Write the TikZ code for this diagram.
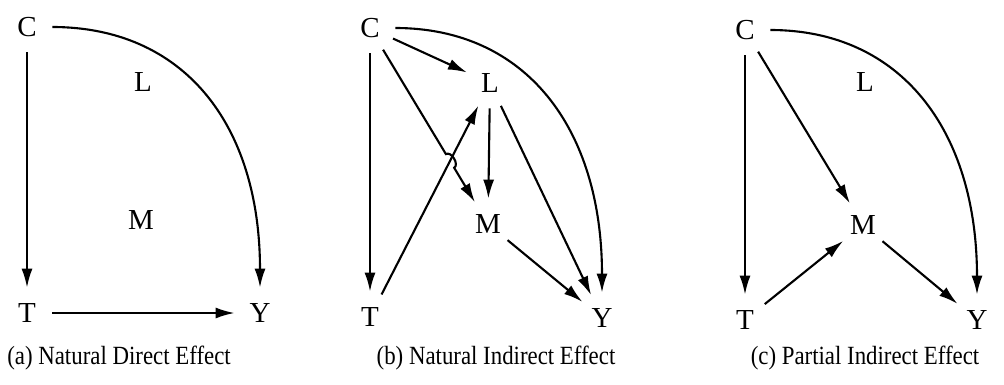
\documentclass[tikz,border=0pt]{standalone}
\usepackage{fontspec}
\setmainfont{Liberation Serif}
\usetikzlibrary{arrows.meta,calc}

\begin{document}
\begin{tikzpicture}[>={Latex[length=3.8mm,width=2.2mm]},x=0.02cm,y=-0.02cm,
  var/.style={circle,inner sep=0pt,minimum size=1cm,font=\fontsize{16.5}{19}\selectfont},
  captext/.style={font=\fontsize{13}{15}\selectfont,yscale=1.15,transform shape},
  arr/.style={->,line width=1.2pt}]
  \useasboundingbox (0,0) rectangle (1004,385);
  \begin{scope}
    \node[var] (aC) at (27,27) {C};
    \node[var] (aL) at (143,82) {L};
    \node[var] (aM) at (141,220) {M};
    \node[var] (aT) at (27,313) {T};
    \node[var] (aY) at (260,313) {Y};
    \draw[arr] (aC) -- (aT);
    \draw[arr] (aT) -- (aY);
    \draw[arr] (aC.east) .. controls +(130,0) and +(0,-165) .. (aY.north);
    \node[captext] (capa) at (119,358) {(a) Natural Direct Effect};
  \end{scope}
  \begin{scope}[shift={(340,0)}]
    \node[var] (bC) at (30,28) {C};
    \node[var] (bL) at (150,83) {L};
    \node[var] (bM) at (148,224) {M};
    \node[var] (bT) at (30,317) {T};
    \node[var] (bY) at (262,318) {Y};
    \coordinate (bX) at (intersection of bC--bM and bT--bL);
    \draw[arr] (bC) -- (bT);
    \draw[arr] (bC) -- (bL);
    \draw[arr] (bT) -- (bL);
    \draw[arr] (bC) -- ($(bX)!0.16cm!(bC)$) to[bend left=90] ($(bX)!0.16cm!(bM)$) -- (bM);
    \draw[arr] (bL) -- (bM);
    \draw[arr] (bL) -- (bY);
    \draw[arr] (bM) -- (bY);
    \draw[arr] (bC.east) .. controls +(130,0) and +(0,-165) .. (bY.north);
    \node[captext] (capb) at (156,358) {(b) Natural Indirect Effect};
  \end{scope}
  \begin{scope}[shift={(700,0)}]
    \node[var] (cC) at (45,30) {C};
    \node[var] (cL) at (165,82) {L};
    \node[var] (cM) at (163,225) {M};
    \node[var] (cT) at (45,320) {T};
    \node[var] (cY) at (277,320) {Y};
    \draw[arr] (cC) -- (cT);
    \draw[arr] (cC) -- (cM);
    \draw[arr] (cT) -- (cM);
    \draw[arr] (cM) -- (cY);
    \draw[arr] (cC.east) .. controls +(130,0) and +(0,-165) .. (cY.north);
    \node[captext] (capc) at (165,358) {(c) Partial Indirect Effect};
  \end{scope}
\end{tikzpicture}
\end{document}
